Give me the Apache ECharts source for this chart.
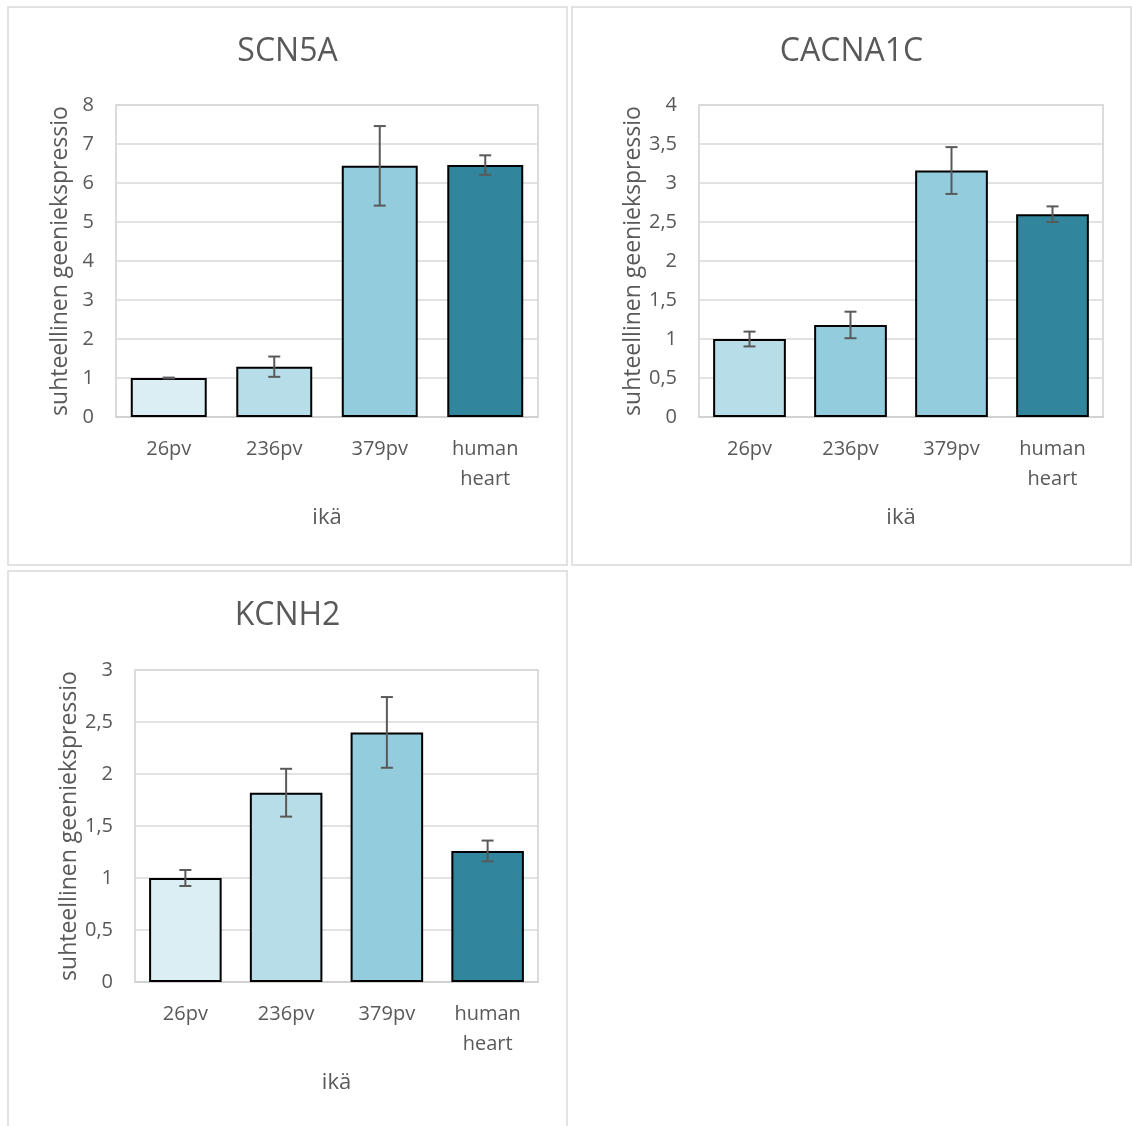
<!DOCTYPE html>
<html>
<head>
<meta charset="utf-8">
<script src="https://cdn.jsdelivr.net/npm/echarts@6/dist/echarts.min.js"></script>
<style>
  html, body { margin: 0; padding: 0; background: #fff; }
  #main { width: 1132px; height: 1126px; }
</style>
</head>
<body>
<div id="main"></div>
<script>
// data
var categories = ['26pv', '236pv', '379pv', 'human\nheart'];
var titles = ['SCN5A', 'CACNA1C', 'KCNH2'];
var scn5aMean = [1.00, 1.29, 6.44, 6.46];
var scn5aErr = [0.01, 0.26, 1.02, 0.25];
var cacna1cMean = [1.00, 1.18, 3.16, 2.60];
var cacna1cErr = [0.095, 0.17, 0.30, 0.10];
var kcnh2Mean = [1.00, 1.82, 2.40, 1.26];
var kcnh2Err = [0.077, 0.23, 0.34, 0.10];
var yMax = [8, 4, 3];
var yStep = [1, 0.5, 0.5];
var yName = 'suhteellinen geeniekspressio';
var xName = 'ikä';

// styles
var palettes = [
  ['#dbeef3', '#b7dde8', '#93cddd', '#31859c'],
  ['#b7dde8', '#93cddd', '#93cddd', '#31859c'],
  ['#dbeef3', '#b7dde8', '#93cddd', '#31859c']
];
var grids = [
  {left: 116, top: 105, width: 422, height: 312},
  {left: 699, top: 105, width: 404, height: 312},
  {left: 135, top: 670, width: 403, height: 312}
];
var panels = [
  {x: 8, y: 7, w: 559, h: 558},
  {x: 572, y: 7, w: 559, h: 558},
  {x: 8, y: 571, w: 559, h: 570}
];
var FONT = '"Open Sans", sans-serif';
var TXT = '#595959';

var means = [scn5aMean, cacna1cMean, kcnh2Mean];
var errs = [scn5aErr, cacna1cErr, kcnh2Err];

var option = {
  backgroundColor: '#fff',
  animation: false,
  textStyle: {fontFamily: FONT},
  title: [],
  grid: [],
  xAxis: [],
  yAxis: [],
  series: [],
  graphic: panels.map(function (p) {
    return {type: 'rect', shape: {x: p.x, y: p.y, width: p.w, height: p.h},
      style: {fill: null, stroke: '#d9d9d9', lineWidth: 1.5}, silent: true};
  })
};

for (var i = 0; i < 3; i++) {
  var g = grids[i];
  option.title.push({
    text: titles[i], left: panels[i].x + panels[i].w / 2 - 5, top: panels[i].y + 24,
    textAlign: 'center',
    textStyle: {fontFamily: FONT, fontSize: 32, fontWeight: 'normal', color: TXT}
  });
  option.grid.push({left: g.left, top: g.top, width: g.width, height: g.height,
    show: true, borderColor: '#d0d0d0', borderWidth: 1.5, containLabel: false});
  option.xAxis.push({
    type: 'category', gridIndex: i, data: categories,
    name: xName, nameLocation: 'middle', nameGap: 90,
    nameTextStyle: {fontFamily: FONT, fontSize: 22, color: TXT},
    axisLine: {lineStyle: {color: '#d0d0d0', width: 1.5}},
    axisTick: {show: false},
    axisLabel: {fontFamily: FONT, fontSize: 20, color: TXT, margin: 17, lineHeight: 30, interval: 0}
  });
  option.yAxis.push({
    type: 'value', gridIndex: i, min: 0, max: yMax[i], interval: yStep[i],
    name: yName, nameLocation: 'middle', nameGap: 44, nameRotate: 90,
    nameTextStyle: {fontFamily: FONT, fontSize: 23, color: TXT},
    axisLine: {show: false}, axisTick: {show: false},
    splitLine: {lineStyle: {color: '#d9d9d9', width: 1.5}},
    axisLabel: {fontFamily: FONT, fontSize: 20, color: TXT, margin: 22,
      formatter: function (v) { return String(v).replace('.', ','); }}
  });
  var pal = palettes[i];
  option.series.push({
    type: 'bar', xAxisIndex: i, yAxisIndex: i, barCategoryGap: '28%',
    data: means[i].map(function (v, k) {
      return {value: v, itemStyle: {color: pal[k]}};
    }),
    itemStyle: {borderColor: '#000', borderWidth: 2}
  });
  option.series.push({
    type: 'custom', xAxisIndex: i, yAxisIndex: i, z: 10,
    data: means[i].map(function (v, k) { return [k, v - errs[i][k], v + errs[i][k]]; }),
    renderItem: function (params, api) {
      var lo = api.coord([api.value(0), api.value(1)]);
      var hi = api.coord([api.value(0), api.value(2)]);
      var c = 6;
      var st = {stroke: '#595959', lineWidth: 2};
      return {type: 'group', children: [
        {type: 'line', shape: {x1: lo[0], y1: lo[1], x2: hi[0], y2: hi[1]}, style: st},
        {type: 'line', shape: {x1: hi[0] - c, y1: hi[1], x2: hi[0] + c, y2: hi[1]}, style: st},
        {type: 'line', shape: {x1: lo[0] - c, y1: lo[1], x2: lo[0] + c, y2: lo[1]}, style: st}
      ]};
    }
  });
}

var myChart = echarts.init(document.getElementById('main'));
myChart.setOption(option);
</script>
</body>
</html>
